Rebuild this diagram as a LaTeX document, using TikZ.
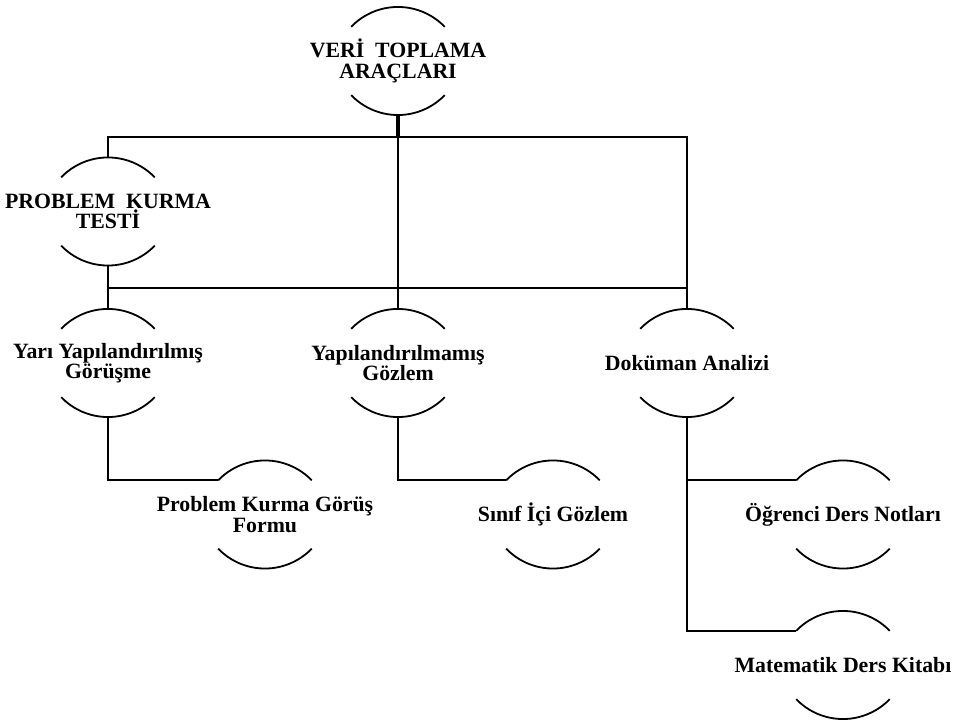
\documentclass[tikz,border=0pt]{standalone}
\usepackage{fontspec}
\setmainfont{Liberation Serif}
\usepackage{tikz}
\tikzset{
  box/.style={rectangle, minimum height=108pt, inner sep=0pt, align=center,
    font=\bfseries\fontsize{21.8}{20.5}\selectfont},
  arcline/.style={line width=1.8pt},
  link/.style={line width=1.9pt},
  stub/.style={line width=4.5pt}
}
\begin{document}
\begin{tikzpicture}[x=1pt, y=1pt]
\useasboundingbox (0,0) rectangle (956,720);
\node[box] (veri) at (398,659) {VERİ~ TOPLAMA\\ARAÇLARI};
\node[box] (testi) at (108,508.5) {PROBLEM~ KURMA\\TESTİ};
\node[box] (yari) at (108,357) {Yarı Yapılandırılmış\\Görüşme};
\node[box] (yapil) at (398,357) {Yapılandırılmamış\\Gözlem};
\node[box] (dokuman) at (687,357) {Doküman Analizi};
\node[box] (gorus) at (265,205.5) {Problem Kurma Görüş\\Formu};
\node[box] (sinif) at (553,205.5) {Sınıf İçi Gözlem};
\node[box] (ogrenci) at (843,205.5) {Öğrenci Ders Notları};
\node[box] (matematik) at (843,55) {Matematik Ders Kitabı};
\foreach \n in {veri,testi,yari,yapil,dokuman,gorus,sinif,ogrenci,matematik}{
  \draw[arcline] ([shift={(-46.8,34.2)}]\n.center) arc[start angle=136, end angle=44, radius=65pt];
  \draw[arcline] ([shift={(-46.8,-34.2)}]\n.center) arc[start angle=224, end angle=316, radius=65pt];
  \coordinate (\n-in) at ([shift={(-46.8,34.2)}]\n.center);
}
\coordinate (b1) at (0,583);
\coordinate (b2) at (0,432);
\draw[stub] (veri.south) -- (veri.south |- b1);
\draw[link] (veri.south |- b1) -- (yapil.north);
\draw[link, line width=2.3pt] (testi.north) -- (testi.north |- b1) -- (dokuman.north |- b1) -- (dokuman.north);
\draw[link] (testi.south) -- (yari.north);
\draw[link] (yari.north |- b2) -- (dokuman.north |- b2);
\draw[link] (yari.south) |- (gorus-in);
\draw[link] (yapil.south) |- (sinif-in);
\draw[link] (dokuman.south) |- (ogrenci-in);
\draw[link] (dokuman.south) |- (matematik-in);
\end{tikzpicture}
\end{document}
